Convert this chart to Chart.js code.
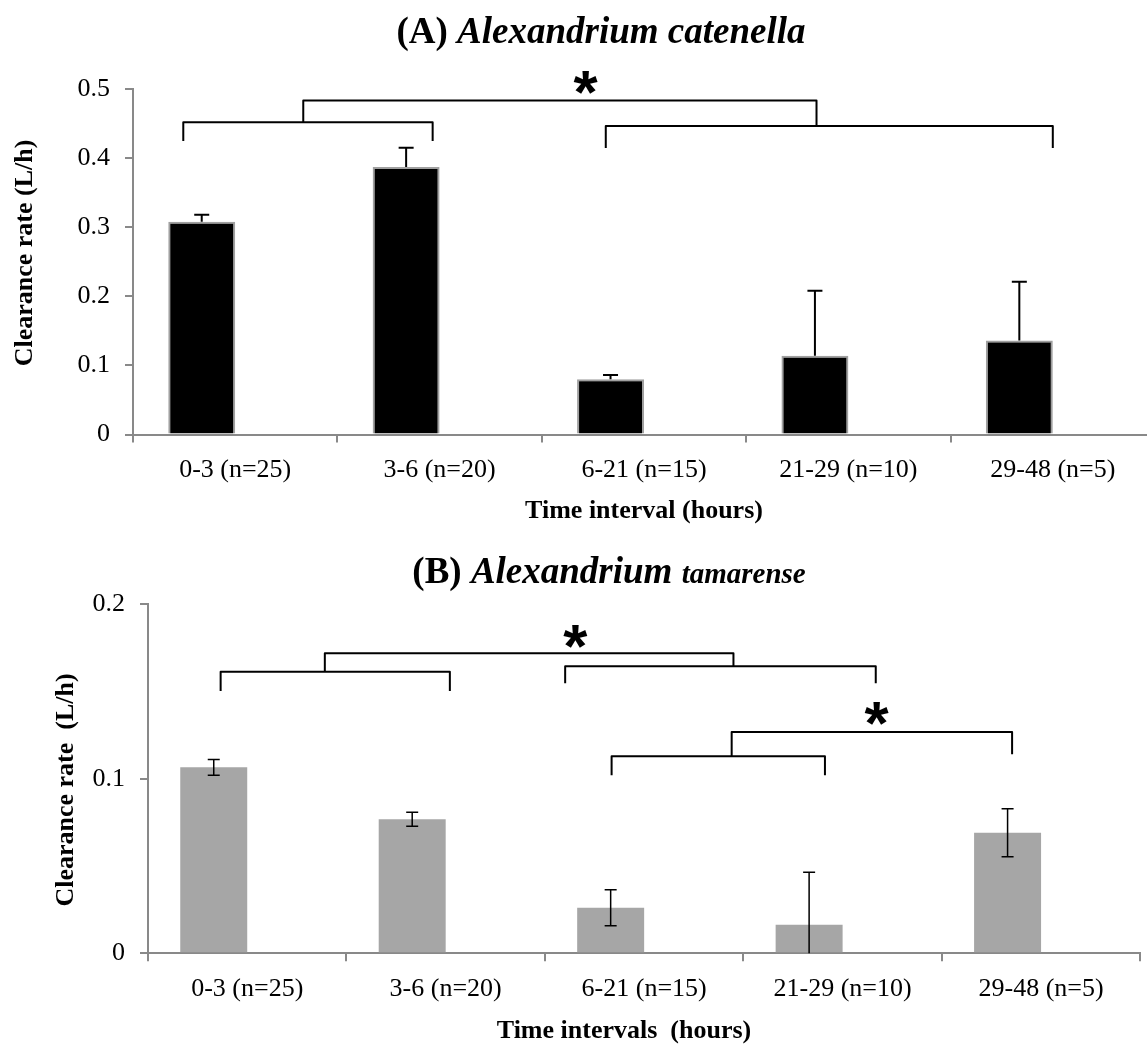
<!DOCTYPE html>
<html>
<head>
<meta charset="utf-8">
<script src="https://cdn.jsdelivr.net/npm/chart.js@4.4.0/dist/chart.umd.min.js"></script>
<style>
    html, body { margin: 0; padding: 0; background: #fff; overflow: hidden; }
    #wrap { position: relative; width: 1147px; height: 1046px; overflow: hidden; }
    canvas { position: absolute; left: 0; }
    #chartA { top: 0; }
    #chartB { top: 540px; }
</style>
</head>
<body>
<div id="wrap">
    <canvas id="chartA" width="1160" height="540"></canvas>
    <canvas id="chartB" width="1160" height="506"></canvas>
</div>
<script>
var categories = ['0-3 (n=25)', '3-6 (n=20)', '6-21 (n=15)', '21-29 (n=10)', '29-48 (n=5)'];

// (A) Alexandrium catenella
var catenellaRate = [0.308, 0.387, 0.080, 0.114, 0.136];
var catenellaErr = [0.010, 0.028, 0.006, 0.094, 0.085];

// (B) Alexandrium tamarense
var tamarenseRate = [0.1066, 0.0768, 0.0261, 0.0164, 0.0691];
var tamarenseErr = [0.0045, 0.0040, 0.0103, 0.0300, 0.0137];

// significance brackets: [from, to (category units), line, left leg end, right leg end]
var catenellaBrackets = [
    [0.246, 1.466, 0.452, 0.4246, 0.4246],
    [2.313, 4.5, 0.4463, 0.4145, 0.4145],
    [0.833, 3.344, 0.4834, 0.452, 0.4463]
];
var catenellaStars = [[2.214, 0.51]];

var tamarenseBrackets = [
    [0.366, 1.521, 0.1614, 0.1503, 0.1503],
    [2.102, 3.667, 0.1645, 0.1547, 0.1547],
    [0.891, 2.950, 0.1719, 0.1614, 0.1645],
    [2.336, 3.411, 0.1129, 0.1020, 0.1020],
    [2.941, 4.354, 0.1268, 0.1129, 0.1140]
];
var tamarenseStars = [[2.153, 0.1814], [3.671, 0.1375]];

var SERIF = '"Liberation Serif", "Times New Roman", serif';
var AXIS_GRAY = '#898989';

function drawRich(ctx, parts, cx, baseline) {
    var total = 0;
    parts.forEach(function(p) {
        ctx.font = p.font;
        total += ctx.measureText(p.text).width;
    });
    var x = cx - total / 2;
    ctx.textAlign = 'left';
    ctx.textBaseline = 'alphabetic';
    parts.forEach(function(p) {
        ctx.font = p.font;
        ctx.fillText(p.text, x, baseline);
        x += ctx.measureText(p.text).width;
    });
}

function extras(cfg) {
    return {
        id: 'extras',
        afterDatasetsDraw: function(chart) {
            var ctx = chart.ctx;
            var xs = chart.scales.x;
            var ys = chart.scales.y;
            var meta = chart.getDatasetMeta(0);
            var catW = (xs.right - xs.left) / categories.length;
            var px = function(u) { return xs.left + u * catW; };

            ctx.save();
            ctx.strokeStyle = '#000';
            ctx.fillStyle = '#000';

            // error bars
            ctx.lineWidth = cfg.errWidth;
            meta.data.forEach(function(bar, i) {
                var v = cfg.rates[i], e = cfg.errs[i];
                var top = ys.getPixelForValue(v + e);
                var bottom = cfg.both ? ys.getPixelForValue(Math.max(v - e, 0)) : ys.getPixelForValue(v);
                var half = cfg.capWidth / 2;
                ctx.beginPath();
                ctx.moveTo(bar.x, bottom);
                ctx.lineTo(bar.x, top);
                ctx.moveTo(bar.x - half, top);
                ctx.lineTo(bar.x + half, top);
                if (cfg.both && v - e > 0) {
                    ctx.moveTo(bar.x - half, bottom);
                    ctx.lineTo(bar.x + half, bottom);
                }
                ctx.stroke();
            });

            // brackets
            ctx.lineWidth = 2;
            ctx.lineJoin = 'round';
            cfg.brackets.forEach(function(b) {
                ctx.beginPath();
                ctx.moveTo(px(b[0]), ys.getPixelForValue(b[3]));
                ctx.lineTo(px(b[0]), ys.getPixelForValue(b[2]));
                ctx.lineTo(px(b[1]), ys.getPixelForValue(b[2]));
                ctx.lineTo(px(b[1]), ys.getPixelForValue(b[4]));
                ctx.stroke();
            });

            // stars
            ctx.font = 'bold 62px "Liberation Sans", Arial, sans-serif';
            ctx.textAlign = 'center';
            ctx.textBaseline = 'alphabetic';
            cfg.stars.forEach(function(s) {
                var m = ctx.measureText('*');
                var mid = (m.actualBoundingBoxAscent - m.actualBoundingBoxDescent) / 2;
                ctx.fillText('*', px(s[0]), ys.getPixelForValue(s[1]) + mid);
            });

            // titles
            drawRich(ctx, cfg.title, cfg.titleX, cfg.titleY);

            ctx.font = 'bold 26px ' + SERIF;
            ctx.textAlign = 'center';
            ctx.textBaseline = 'alphabetic';
            ctx.fillText(cfg.xTitle, cfg.xTitleX, cfg.xTitleY);

            ctx.translate(cfg.yTitleX, cfg.yTitleY);
            ctx.rotate(-Math.PI / 2);
            ctx.textBaseline = 'middle';
            ctx.fillText(cfg.yTitle, 0, 0);
            ctx.restore();
        }
    };
}

function makeChart(el, cfg) {
    return new Chart(document.getElementById(el), {
        type: 'bar',
        data: {
            labels: categories,
            datasets: [
                {
                    data: cfg.rates,
                    backgroundColor: cfg.fill,
                    borderColor: cfg.border,
                    borderWidth: cfg.borderWidth,
                    categoryPercentage: cfg.catPct,
                    barPercentage: 1,
                },
                {
                    data: [],
                    categoryPercentage: cfg.catPct,
                    barPercentage: 1,
                },
            ],
        },
        options: {
            responsive: false,
            animation: false,
            devicePixelRatio: 1,
            layout: { padding: cfg.padding },
            plugins: { legend: { display: false }, tooltip: { enabled: false } },
            scales: {
                x: {
                    grid: { drawOnChartArea: false, color: AXIS_GRAY, lineWidth: 2, tickLength: 8 },
                    border: { color: AXIS_GRAY, width: 2 },
                    ticks: { color: '#000', font: { family: SERIF, size: 26 }, padding: 12, maxRotation: 0 },
                    afterFit: function(scale) { scale.height = cfg.xHeight; },
                },
                y: {
                    min: 0,
                    max: cfg.yMax,
                    grid: { drawOnChartArea: false, color: AXIS_GRAY, lineWidth: 2, tickLength: 8 },
                    border: { color: AXIS_GRAY, width: 2 },
                    ticks: {
                        stepSize: 0.1,
                        color: '#000',
                        font: { family: SERIF, size: 26 },
                        padding: 15,
                        callback: function(v) { return Math.round(v * 10) / 10; },
                    },
                    afterFit: function(scale) { scale.width = cfg.yWidth; },
                },
            },
        },
        plugins: [extras(cfg)],
    });
}

makeChart('chartA', {
    rates: catenellaRate,
    errs: catenellaErr,
    brackets: catenellaBrackets,
    stars: catenellaStars,
    both: false,
    errWidth: 2,
    capWidth: 15,
    fill: '#000',
    border: '#a0a0a0',
    borderWidth: 2,
    catPct: 0.655,
    yMax: 0.5,
    yWidth: 133,
    xHeight: 105.5,
    padding: { top: 89, right: 5, bottom: 0, left: 0 },
    title: [
        { text: '(A) ', font: 'bold 37px ' + SERIF },
        { text: 'Alexandrium catenella', font: 'italic bold 37px ' + SERIF },
    ],
    titleX: 601,
    titleY: 43,
    xTitle: 'Time interval (hours)',
    xTitleX: 644,
    xTitleY: 518,
    yTitle: 'Clearance rate (L/h)',
    yTitleX: 25,
    yTitleY: 253,
});

makeChart('chartB', {
    rates: tamarenseRate,
    errs: tamarenseErr,
    brackets: tamarenseBrackets,
    stars: tamarenseStars,
    both: true,
    errWidth: 1.5,
    capWidth: 12,
    fill: '#a6a6a6',
    border: '#a6a6a6',
    borderWidth: 0,
    catPct: 0.675,
    yMax: 0.2,
    yWidth: 148,
    xHeight: 92.7,
    padding: { top: 64.3, right: 19.7, bottom: 0, left: 0 },
    title: [
        { text: '(B) ', font: 'bold 37px ' + SERIF },
        { text: 'Alexandrium ', font: 'italic bold 37px ' + SERIF },
        { text: 'tamarense', font: 'italic bold 29px ' + SERIF },
    ],
    titleX: 609,
    titleY: 43,
    xTitle: 'Time intervals  (hours)',
    xTitleX: 624,
    xTitleY: 498,
    yTitle: 'Clearance rate  (L/h)',
    yTitleX: 66,
    yTitleY: 250,
});
</script>
</body>
</html>
